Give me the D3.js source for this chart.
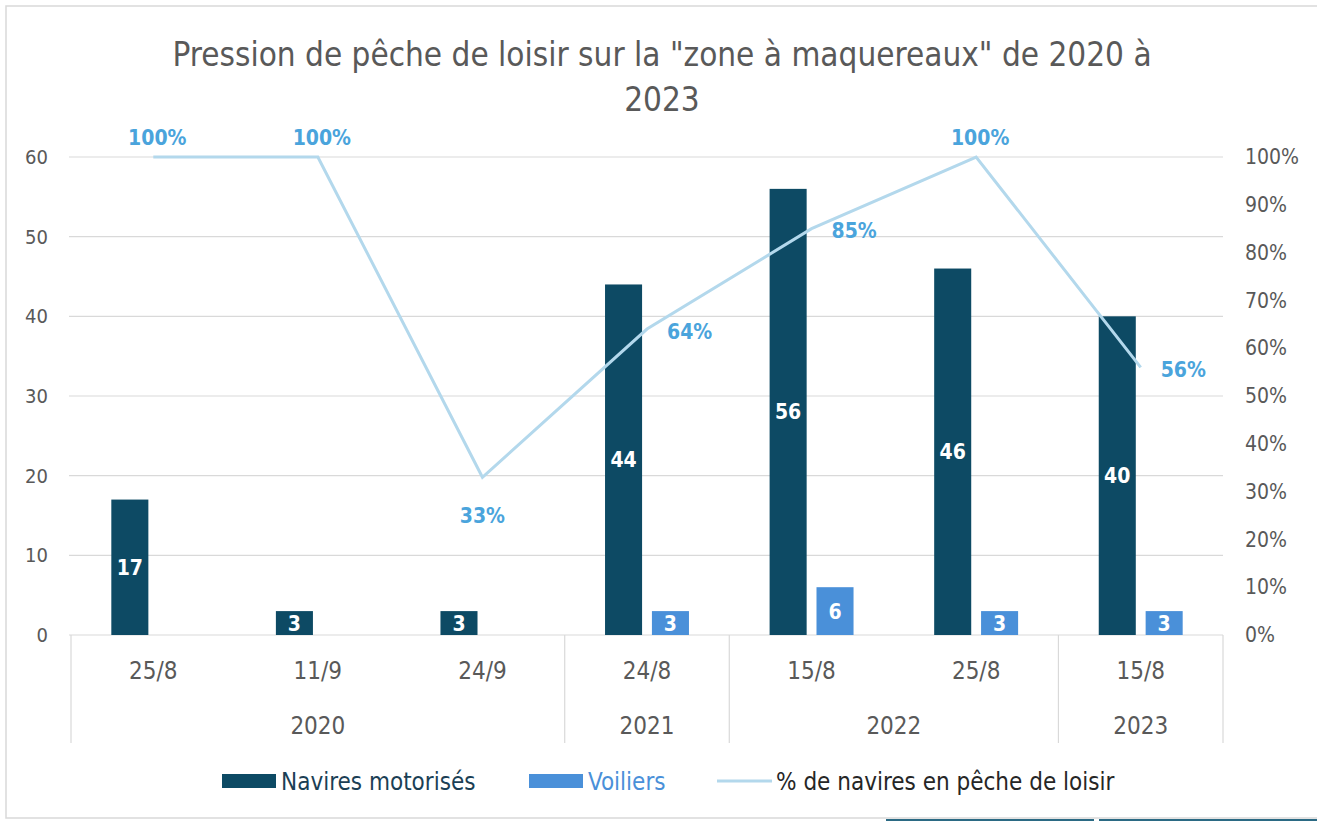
<!DOCTYPE html>
<html>
<head>
<meta charset="utf-8">
<script src="https://cdn.jsdelivr.net/npm/d3@7"></script>
<style>
  body { margin: 0; background: #fff; }
  svg text { font-family: "Liberation Sans Narrow", "DejaVu Sans Condensed", "Roboto", sans-serif; }
</style>
</head>
<body>
<svg id="chart" width="1317" height="822"></svg>
<script>
// data
let dates = ["25/8", "11/9", "24/9", "24/8", "15/8", "25/8", "15/8"]
let yearOf = ["2020", "2020", "2020", "2021", "2022", "2022", "2023"]
let years = ["2020", "2021", "2022", "2023"]
let motorises = [17, 3, 3, 44, 56, 46, 40]
let voiliers = [null, null, null, 3, 6, 3, 3]
let pctLoisir = [100, 100, 33, 64, 85, 100, 56]
let pctLabelPos = ["above", "above", "below", "right", "right", "above", "right"]
let leftTicks = [0, 10, 20, 30, 40, 50, 60]
let rightTicks = [0, 10, 20, 30, 40, 50, 60, 70, 80, 90, 100]

let svg = d3.select("#chart")

let c_motor = "#0d4a64"
let c_voil = "#4a90d9"
let c_line = "#b3d8ec"
let c_pctlab = "#4aa4dc"
let c_text = "#595959"

let mLeft = 71, mRight = 1223, mTop = 157, mBottom = 635

// frame
svg.append("rect")
    .attr("x", 6).attr("y", 6)
    .attr("width", 1330).attr("height", 812)
    .attr("fill", "#fff")
    .attr("stroke", "#d9d9d9")
    .attr("stroke-width", 1.5)

// stray spreadsheet cell borders bottom right
svg.append("line").attr("x1", 886).attr("x2", 1094).attr("y1", 820).attr("y2", 820)
    .attr("stroke", "#2b6a84").attr("stroke-width", 2)
svg.append("line").attr("x1", 1099).attr("x2", 1317).attr("y1", 820).attr("y2", 820)
    .attr("stroke", "#2b6a84").attr("stroke-width", 2)

// title
let title = svg.append("text")
    .attr("text-anchor", "middle")
    .style("font-size", "33px")
    .style("fill", c_text)
title.append("tspan").attr("x", 662).attr("y", 66)
    .text("Pression de pêche de loisir sur la \"zone à maquereaux\" de 2020 à")
title.append("tspan").attr("x", 662).attr("y", 111).text("2023")

let idx = d3.range(dates.length)

let x0 = d3.scaleBand()
    .domain(idx)
    .range([mLeft, mRight])
    .paddingInner(0).paddingOuter(0)

let bw = x0.bandwidth()
let x1 = d3.scaleBand()
    .domain(["motor", "voil"])
    .range([bw * 0.245, bw * 0.755])
    .paddingInner(0.21)

let y = d3.scaleLinear().domain([0, 60]).range([mBottom, mTop])
let y2 = d3.scaleLinear().domain([0, 100]).range([mBottom, mTop])

// gridlines
svg.append("g")
    .selectAll("line")
    .data(leftTicks)
    .join("line")
    .attr("x1", mLeft - 2).attr("x2", mRight)
    .attr("y1", d => y(d)).attr("y2", d => y(d))
    .attr("stroke", "#d9d9d9")
    .attr("stroke-width", 1.2)

// left axis
let yAxis = svg.append("g")
    .attr("transform", "translate(" + (mLeft - 16) + ",0)")
    .call(d3.axisLeft(y).tickValues(leftTicks).tickSize(0).tickPadding(7))
yAxis.select(".domain").remove()
yAxis.selectAll("text").style("font-size", "20px").style("fill", c_text)
    .attr("font-family", null)

// right axis
let y2Axis = svg.append("g")
    .attr("transform", "translate(" + mRight + ",0)")
    .call(d3.axisRight(y2).tickValues(rightTicks).tickSize(0).tickPadding(22)
        .tickFormat(d => d + "%"))
y2Axis.select(".domain").remove()
y2Axis.selectAll("text").style("font-size", "21px").style("fill", c_text)
    .attr("font-family", null)

// category axis: separators between years
let yearStarts = years.map(yr => yearOf.indexOf(yr))
let sepX = yearStarts.map(i => x0(i)).concat([mRight])
svg.append("g")
    .selectAll("line")
    .data(sepX)
    .join("line")
    .attr("x1", d => d).attr("x2", d => d)
    .attr("y1", mBottom).attr("y2", 743)
    .attr("stroke", "#d9d9d9")
    .attr("stroke-width", 1.2)

svg.append("g")
    .selectAll("text")
    .data(idx)
    .join("text")
    .attr("x", i => x0(i) + bw / 2)
    .attr("y", 679)
    .attr("text-anchor", "middle")
    .style("font-size", "24px")
    .style("fill", c_text)
    .text(i => dates[i])

svg.append("g")
    .selectAll("text")
    .data(years)
    .join("text")
    .attr("x", yr => {
        let ii = idx.filter(i => yearOf[i] === yr)
        return (x0(ii[0]) + x0(ii[ii.length - 1]) + bw) / 2
    })
    .attr("y", 734)
    .attr("text-anchor", "middle")
    .style("font-size", "24px")
    .style("fill", c_text)
    .text(d => d)

// bars
let bars = svg.append("g")
bars.selectAll(".motor")
    .data(idx)
    .join("rect")
    .attr("class", "motor")
    .attr("x", i => x0(i) + x1("motor"))
    .attr("y", i => y(motorises[i]))
    .attr("width", x1.bandwidth())
    .attr("height", i => y(0) - y(motorises[i]))
    .style("fill", c_motor)

let voilIdx = idx.filter(i => voiliers[i] != null)
bars.selectAll(".voil")
    .data(voilIdx)
    .join("rect")
    .attr("class", "voil")
    .attr("x", i => x0(i) + x1("voil"))
    .attr("y", i => y(voiliers[i]))
    .attr("width", x1.bandwidth())
    .attr("height", i => y(0) - y(voiliers[i]))
    .style("fill", c_voil)

// bar labels
bars.selectAll(".motorlab")
    .data(idx)
    .join("text")
    .attr("class", "motorlab")
    .attr("x", i => x0(i) + x1("motor") + x1.bandwidth() / 2)
    .attr("y", i => (y(motorises[i]) + y(0)) / 2)
    .attr("dy", "0.36em")
    .attr("text-anchor", "middle")
    .style("font-size", "21px")
    .style("font-weight", "bold")
    .style("fill", "#fff")
    .text(i => motorises[i])

bars.selectAll(".voillab")
    .data(voilIdx)
    .join("text")
    .attr("class", "voillab")
    .attr("x", i => x0(i) + x1("voil") + x1.bandwidth() / 2)
    .attr("y", i => (y(voiliers[i]) + y(0)) / 2)
    .attr("dy", "0.36em")
    .attr("text-anchor", "middle")
    .style("font-size", "21px")
    .style("font-weight", "bold")
    .style("fill", "#fff")
    .text(i => voiliers[i])

// line
let line = d3.line()
    .x(i => x0(i) + bw / 2)
    .y(i => y2(pctLoisir[i]))

svg.append("path")
    .datum(idx)
    .attr("d", line)
    .attr("fill", "none")
    .attr("stroke", c_line)
    .attr("stroke-width", 3)

let offs = {
    above: { dx: 4, dy: -20, anchor: "middle" },
    below: { dx: 0, dy: 38, anchor: "middle" },
    right: { dx: 20, dy: 2, anchor: "start" }
}
svg.append("g")
    .selectAll("text")
    .data(idx)
    .join("text")
    .attr("x", i => x0(i) + bw / 2 + offs[pctLabelPos[i]].dx)
    .attr("y", i => y2(pctLoisir[i]) + offs[pctLabelPos[i]].dy)
    .attr("dy", "0.36em")
    .attr("text-anchor", i => offs[pctLabelPos[i]].anchor)
    .style("font-size", "21px")
    .style("font-weight", "bold")
    .style("fill", c_pctlab)
    .text(i => pctLoisir[i] + "%")

// legend
let legend = svg.append("g")
let legItems = [
    { name: "Navires motorisés", type: "rect", color: c_motor, txt: "#1b3f55", x: 222 },
    { name: "Voiliers", type: "rect", color: c_voil, txt: c_voil, x: 529 },
    { name: "% de navires en pêche de loisir", type: "line", color: c_line, txt: "#262626", x: 717 }
]
legItems.forEach(function (d) {
    if (d.type === "rect") {
        legend.append("rect")
            .attr("x", d.x).attr("y", 774)
            .attr("width", 54).attr("height", 14)
            .style("fill", d.color)
    } else {
        legend.append("line")
            .attr("x1", d.x).attr("x2", d.x + 55)
            .attr("y1", 781).attr("y2", 781)
            .attr("stroke", d.color).attr("stroke-width", 3)
    }
    legend.append("text")
        .attr("x", d.x + 59).attr("y", 781)
        .attr("dy", "0.36em")
        .style("font-size", "24px")
        .style("fill", d.txt)
        .text(d.name)
})
</script>
</body>
</html>
